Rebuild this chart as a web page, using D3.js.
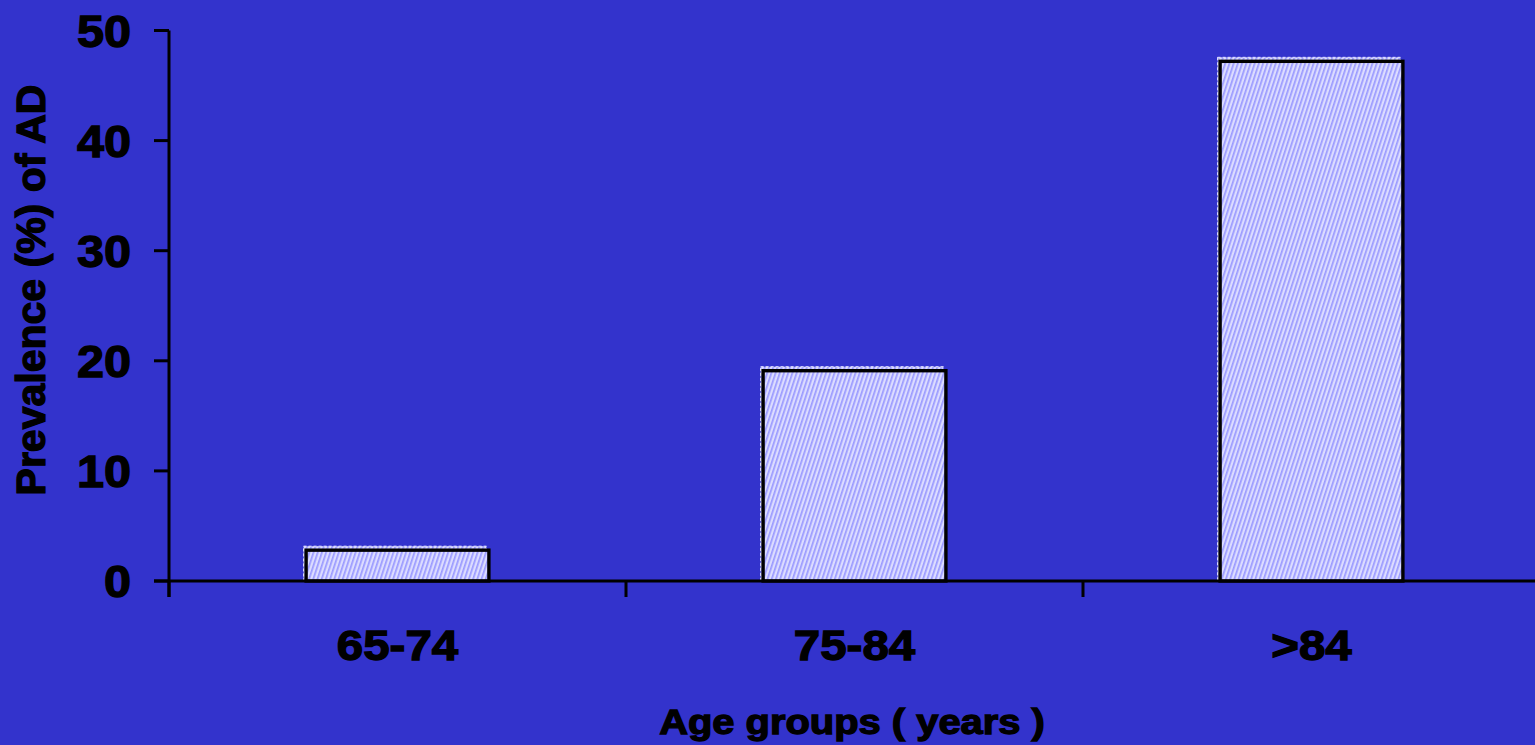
<!DOCTYPE html>
<html>
<head>
<meta charset="utf-8">
<script src="https://cdn.jsdelivr.net/npm/d3@7"></script>
<style>
  html, body { margin: 0; padding: 0; background: #3333cc; overflow: hidden; }
  svg { display: block; }
  text { font-family: "Liberation Sans", Arial, sans-serif; font-weight: bold; fill: #000; stroke: #000; stroke-width: 1.3; }
</style>
</head>
<body>
<svg id="chart" width="1535" height="745"></svg>
<script>
// Prevalence of Alzheimer's disease by age group
const categories = ["65-74", "75-84", ">84"];
const prevalence = [2.8, 19.1, 47.2];
const yTicks = [0, 10, 20, 30, 40, 50];

const W = 1535, H = 745;
const svg = d3.select("#chart");

svg.append("rect").attr("width", W).attr("height", H).attr("fill", "#3333cc");

// diagonal hatch fill for the bars
const defs = svg.append("defs");
const pat = defs.append("pattern")
  .attr("id", "hatch")
  .attr("patternUnits", "userSpaceOnUse")
  .attr("width", 4).attr("height", 4)
  .attr("patternTransform", "rotate(18)");
pat.append("rect").attr("width", 4).attr("height", 4).attr("fill", "#dcdcff");
pat.append("rect").attr("width", 1.7).attr("height", 4).attr("fill", "#9a9aff");

const x0 = 169, x1 = 1540;
const x = d3.scaleBand().domain(categories).range([x0, x1]).paddingInner(0.6).paddingOuter(0.3);
const xCell = d3.scaleBand().domain(categories).range([x0, x1]).padding(0);
const y = d3.scaleLinear().domain([0, 50]).range([581, 30.5]);

// bars: a pale offset backing plus the outlined hatched bar
const bars = svg.append("g");
categories.forEach((c, i) => {
  const bx = x(c), bw = x.bandwidth(), by = y(prevalence[i]), bh = y(0) - y(prevalence[i]);
  bars.append("rect")
    .attr("x", bx - 2.5).attr("y", by - 4).attr("width", bw).attr("height", bh + 4)
    .attr("fill", "url(#hatch)")
    .attr("stroke", "#e6e6ff").attr("stroke-width", 1).attr("stroke-dasharray", "3,2");
  bars.append("rect")
    .attr("x", bx).attr("y", by).attr("width", bw).attr("height", bh)
    .attr("fill", "url(#hatch)")
    .attr("stroke", "#000").attr("stroke-width", 3.4);
});

// y axis
const yAxis = svg.append("g");
yAxis.append("line")
  .attr("x1", x0).attr("x2", x0).attr("y1", y(50)).attr("y2", 597)
  .attr("stroke", "#000").attr("stroke-width", 3);
yTicks.forEach(t => {
  yAxis.append("line")
    .attr("x1", 154).attr("x2", x0).attr("y1", y(t)).attr("y2", y(t))
    .attr("stroke", "#000").attr("stroke-width", 3);
  yAxis.append("text")
    .attr("text-anchor", "end")
    .attr("font-size", 45)
    .attr("transform", `translate(131,${y(t) + 16}) scale(1.08,1)`)
    .text(t);
});

// x axis
const xAxis = svg.append("g");
xAxis.append("line")
  .attr("x1", 154).attr("x2", W).attr("y1", y(0)).attr("y2", y(0))
  .attr("stroke", "#000").attr("stroke-width", 3);
categories.forEach(c => {
  xAxis.append("line")
    .attr("x1", xCell(c)).attr("x2", xCell(c)).attr("y1", y(0)).attr("y2", 597)
    .attr("stroke", "#000").attr("stroke-width", 3);
  xAxis.append("text")
    .attr("text-anchor", "middle")
    .attr("font-size", 42)
    .attr("transform", `translate(${x(c) + x.bandwidth() / 2},660) scale(1.13,1)`)
    .text(c);
});

// axis titles
svg.append("text")
  .attr("text-anchor", "middle")
  .attr("font-size", 35)
  .attr("transform", "translate(852,734) scale(1.14,1)")
  .text("Age groups ( years )");

svg.append("text")
  .attr("text-anchor", "middle")
  .attr("font-size", 41)
  .attr("transform", "translate(45,290) rotate(-90)")
  .text("Prevalence (%) of AD");
</script>
</body>
</html>
